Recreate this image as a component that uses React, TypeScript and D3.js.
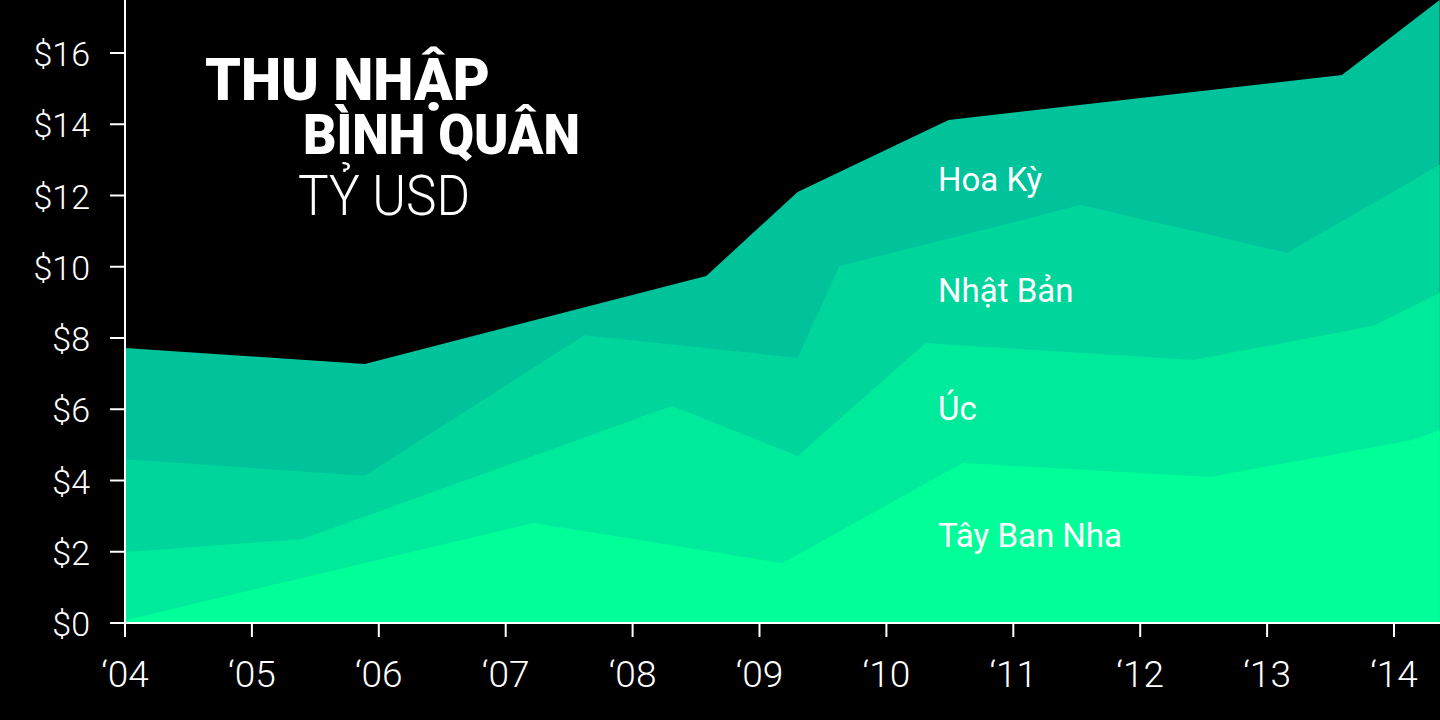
import React from "react";
import * as d3 from "d3";

// Stacked area chart: each series stores the TOP edge of its band (cumulative value, $ bn)
// at the fractional year where the band's outline bends.
const usYears = [2004, 2005.89, 2008.58, 2009.3, 2010.49, 2013.59, 2014.36];
const usTop = [7.72, 7.27, 9.74, 12.1, 14.12, 15.38, 17.49];

const jpYears = [2004, 2005.89, 2007.62, 2009.3, 2009.63, 2011.53, 2013.16, 2014.36];
const jpTop = [4.6, 4.13, 8.08, 7.44, 10.02, 11.73, 10.39, 12.86];

const auYears = [2004, 2005.4, 2008.31, 2009.3, 2010.31, 2012.42, 2013.83, 2014.36];
const auTop = [1.99, 2.36, 6.09, 4.69, 7.86, 7.38, 8.34, 9.26];

const esYears = [2004, 2007.22, 2009.18, 2010.6, 2012.55, 2014.15, 2014.36];
const esTop = [0.08, 2.81, 1.68, 4.49, 4.1, 5.14, 5.42];

const seriesNames = ["Hoa Kỳ", "Nhật Bản", "Úc", "Tây Ban Nha"];
const seriesColors = ["#00C39B", "#00D59B", "#00EA9B", "#00FF99"];
const labelValues = [12.13, 9.01, 5.7, 2.13];

const xTicks = [2004, 2005, 2006, 2007, 2008, 2009, 2010, 2011, 2012, 2013, 2014];
const xTickLabels = ["‘04", "‘05", "‘06", "‘07", "‘08", "‘09", "‘10", "‘11", "‘12", "‘13", "‘14"];
const yTicks = [0, 2, 4, 6, 8, 10, 12, 14, 16];

const W = 1440;
const H = 720;

export default function App() {
  const x = d3.scaleLinear().domain([2004, 2014]).range([125, 1394]);
  const y = d3.scaleLinear().domain([0, 16]).range([623, 53]);

  const area = d3
    .area<[number, number]>()
    .x((d) => x(d[0]))
    .y0(y(0))
    .y1((d) => y(d[1]));

  const layers: [number, number][][] = [
    usYears.map((t, i) => [t, usTop[i]] as [number, number]),
    jpYears.map((t, i) => [t, jpTop[i]] as [number, number]),
    auYears.map((t, i) => [t, auTop[i]] as [number, number]),
    esYears.map((t, i) => [t, esTop[i]] as [number, number]),
  ];

  const tickFont = "Roboto, 'Open Sans', sans-serif";

  return (
    <svg
      width={W}
      height={H}
      style={{ position: "absolute", left: 0, top: 0, display: "block" }}
    >
      <rect x={0} y={0} width={W} height={H} fill="#000" />
      <defs>
        <clipPath id="plot">
          <rect x={125} y={0} width={W - 125} height={623} />
        </clipPath>
      </defs>
      <g clipPath="url(#plot)">
        {layers.map((pts, i) => (
          <path key={i} d={area(pts) || ""} fill={seriesColors[i]} />
        ))}
      </g>

      {/* series labels */}
      {seriesNames.map((n, i) => (
        <text
          key={n}
          x={938}
          y={y(labelValues[i])}
          fill="#fff"
          fontFamily={tickFont}
          fontWeight={400}
          fontSize={33}
        >
          {n}
        </text>
      ))}

      {/* title */}
      <text
        x={205}
        y={100}
        fill="#fff"
        fontFamily="Roboto, sans-serif"
        fontWeight={900}
        fontSize={60}
        textLength={285}
        lengthAdjust="spacingAndGlyphs"
      >
        THU NHẬP
      </text>
      <text
        x={303}
        y={154}
        fill="#fff"
        fontFamily="Roboto, sans-serif"
        fontWeight={900}
        fontSize={56}
        textLength={277}
        lengthAdjust="spacingAndGlyphs"
      >
        BÌNH QUÂN
      </text>
      <text
        x={298}
        y={215}
        fill="#fff"
        fontFamily="Roboto, sans-serif"
        fontWeight={300}
        fontSize={56}
        textLength={172}
        lengthAdjust="spacingAndGlyphs"
      >
        TỶ USD
      </text>

      {/* y axis */}
      <line x1={125} x2={125} y1={0} y2={623} stroke="#fff" strokeWidth={2} />
      {yTicks.map((t) => (
        <g key={t}>
          <line x1={110} x2={125} y1={y(t)} y2={y(t)} stroke="#fff" strokeWidth={2} />
          <text
            x={90}
            y={y(t) + 13}
            textAnchor="end"
            fill="#fff"
            fontFamily={tickFont}
            fontWeight={300}
            fontSize={34}
          >
            {"$" + t}
          </text>
        </g>
      ))}

      {/* x axis */}
      <line x1={110} x2={W} y1={623} y2={623} stroke="#fff" strokeWidth={2} />
      {xTicks.map((t, i) => (
        <g key={t}>
          <line x1={x(t)} x2={x(t)} y1={623} y2={637} stroke="#fff" strokeWidth={2} />
          <text
            x={x(t)}
            y={687}
            textAnchor="middle"
            fill="#fff"
            fontFamily={tickFont}
            fontWeight={300}
            fontSize={37}
          >
            {xTickLabels[i]}
          </text>
        </g>
      ))}
    </svg>
  );
}
